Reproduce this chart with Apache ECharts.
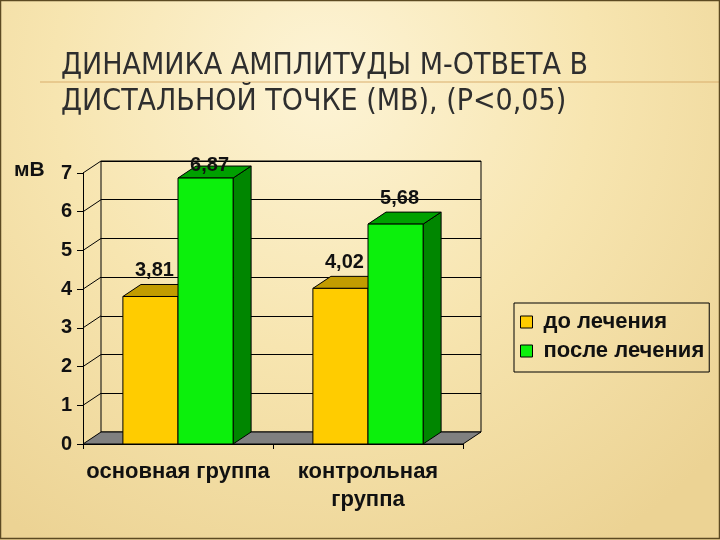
<!DOCTYPE html>
<html>
<head>
<meta charset="utf-8">
<script src="https://cdn.jsdelivr.net/npm/echarts@6/dist/echarts.min.js"></script>
<style>
  html, body { margin: 0; padding: 0; }
  #chart { width: 720px; height: 540px; }
</style>
</head>
<body>
<div id="chart"></div>
<script>
// данные
const categories = ['основная группа', 'контрольная группа']
const beforeValues = [3.81, 4.02]
const afterValues = [6.87, 5.68]
const yTicks = [0, 1, 2, 3, 4, 5, 6, 7]
const seriesNames = ['до лечения', 'после лечения']

// глубина псевдо-3D
const DX = 18
const DY = -12
const BAR_RATIO = 0.29
const FONT = '"Liberation Sans", Arial, sans-serif'

const chart = echarts.init(document.getElementById('chart'))

const fmt = (v) => v.toFixed(2).replace('.', ',')

// столбик с передней, верхней и боковой гранью
const makeBar = (name, values, colors, side) => ({
  name: name,
  type: 'custom',
  xAxisIndex: 0,
  yAxisIndex: 0,
  clip: false,
  z: 5,
  itemStyle: { color: colors.front, borderColor: '#000', borderWidth: 1 },
  data: values.map((v, i) => [i, v]),
  renderItem: (params, api) => {
    const cat = api.value(0)
    const v = api.value(1)
    const base = api.coord([cat, 0])
    const top = api.coord([cat, v])
    const w = api.size([1, 0])[0] * BAR_RATIO
    const x = base[0] + side * w
    const y0 = base[1]
    const y1 = top[1]
    const lw = { stroke: '#000', lineWidth: 1 }
    const labelY = Math.max(y1 + DY - 14, params.coordSys.y - 8)
    return {
      type: 'group',
      children: [
        {
          type: 'polygon',
          shape: { points: [[x + w, y1], [x + w + DX, y1 + DY], [x + w + DX, y0 + DY], [x + w, y0]] },
          style: Object.assign({ fill: colors.side }, lw)
        },
        {
          type: 'polygon',
          shape: { points: [[x, y1], [x + DX, y1 + DY], [x + w + DX, y1 + DY], [x + w, y1]] },
          style: Object.assign({ fill: colors.top }, lw)
        },
        {
          type: 'rect',
          shape: { x: x, y: y1, width: w, height: y0 - y1 },
          style: Object.assign({ fill: colors.front }, lw)
        },
        {
          type: 'text',
          x: x + w / 2 + 4,
          y: labelY,
          style: {
            text: fmt(v),
            font: 'bold 20px ' + FONT,
            fill: '#111',
            align: 'center',
            verticalAlign: 'middle'
          }
        }
      ]
    }
  }
})

chart.setOption({
  backgroundColor: new echarts.graphic.RadialGradient(0.45, 0.15, 1, [
    { offset: 0, color: '#fdf4d6' },
    { offset: 0.5, color: '#f7e5b0' },
    { offset: 1, color: '#ecd394' }
  ]),
  title: {
    text: 'ДИНАМИКА АМПЛИТУДЫ М-ОТВЕТА В\nДИСТАЛЬНОЙ ТОЧКЕ (МВ), (Р<0,05)',
    left: 61,
    top: 48,
    padding: 0,
    textStyle: {
      fontFamily: '"Liberation Sans Narrow", "DejaVu Sans Condensed", sans-serif',
      fontWeight: 'normal',
      fontSize: 30,
      lineHeight: 36,
      color: '#2e2e2e'
    }
  },
  graphic: [
    {
      type: 'line',
      shape: { x1: 40, y1: 82, x2: 720, y2: 82 },
      style: { stroke: '#d9ae6c', lineWidth: 1 }
    },
    {
      type: 'text',
      left: 14,
      top: 160,
      style: { text: 'мВ', font: 'bold 21px ' + FONT, fill: '#111' }
    },
    {
      type: 'rect',
      shape: { x: 0.5, y: 0.5, width: 719, height: 538 },
      style: { fill: null, stroke: '#5c4a22', lineWidth: 1.5 }
    }
  ],
  legend: {
    data: seriesNames.map((n) => ({ name: n, icon: 'rect' })),
    orient: 'vertical',
    left: 514,
    top: 303,
    padding: [8, 5, 10, 6],
    itemGap: 7,
    itemWidth: 12,
    itemHeight: 12,
    borderColor: '#000',
    borderWidth: 1,
    selectedMode: false,
    itemStyle: { borderColor: '#000', borderWidth: 1 },
    textStyle: { fontFamily: FONT, fontWeight: 'bold', fontSize: 22, lineHeight: 22, color: '#111', padding: [0, 0, 0, 6] }
  },
  grid: [
    { left: 83, right: 257, top: 173, bottom: 96 },
    {
      left: 83 + DX, right: 257 - DX, top: 173 + DY, bottom: 96 - DY,
      show: true, borderColor: '#000', borderWidth: 1, backgroundColor: 'transparent'
    }
  ],
  xAxis: [
    {
      type: 'category',
      gridIndex: 0,
      data: categories,
      axisLine: { lineStyle: { color: '#000', width: 1 } },
      axisTick: { show: true, length: 5, lineStyle: { color: '#000' } },
      axisLabel: {
        interval: 0,
        margin: 14,
        // длинную подпись переносим по пробелу, как в оригинале
        formatter: (s) => (s.length > 16 ? s.replace(' ', '\n') : s),
        fontFamily: FONT,
        fontWeight: 'bold',
        fontSize: 22,
        lineHeight: 28,
        color: '#111'
      }
    },
    { type: 'category', gridIndex: 1, data: categories, show: false }
  ],
  yAxis: [
    {
      type: 'value',
      gridIndex: 0,
      min: 0,
      max: 7,
      interval: 1,
      axisLine: { show: true, lineStyle: { color: '#000', width: 1 } },
      axisTick: { show: true, length: 6, lineStyle: { color: '#000' } },
      splitLine: { show: false },
      axisLabel: { margin: 11, fontFamily: FONT, fontWeight: 'bold', fontSize: 20, color: '#111' }
    },
    {
      type: 'value',
      gridIndex: 1,
      min: 0,
      max: 7,
      interval: 1,
      axisLine: { show: false },
      axisTick: { show: false },
      axisLabel: { show: false },
      splitLine: { show: true, lineStyle: { color: '#000', width: 1 } }
    }
  ],
  series: [
    // пол и соединительные линии от передней оси к задней стенке
    {
      name: 'frame',
      type: 'custom',
      xAxisIndex: 0,
      yAxisIndex: 0,
      silent: true,
      clip: false,
      z: 2,
      data: yTicks.map((v) => [0, v]),
      renderItem: (params, api) => {
        const v = api.value(1)
        const y = api.coord([0, v])[1]
        const x0 = params.coordSys.x
        const W = params.coordSys.width
        if (v === 0) {
          return {
            type: 'polygon',
            shape: { points: [[x0, y], [x0 + DX, y + DY], [x0 + W + DX, y + DY], [x0 + W, y]] },
            style: { fill: '#808080', stroke: '#000', lineWidth: 1 }
          }
        }
        return {
          type: 'line',
          shape: { x1: x0, y1: y, x2: x0 + DX, y2: y + DY },
          style: { stroke: '#000', lineWidth: 1 }
        }
      }
    },
    makeBar(seriesNames[0], beforeValues, { front: '#ffcc00', top: '#c29c00', side: '#a88700' }, -1),
    makeBar(seriesNames[1], afterValues, { front: '#0cf00c', top: '#00a000', side: '#008600' }, 0)
  ]
})
</script>
</body>
</html>
